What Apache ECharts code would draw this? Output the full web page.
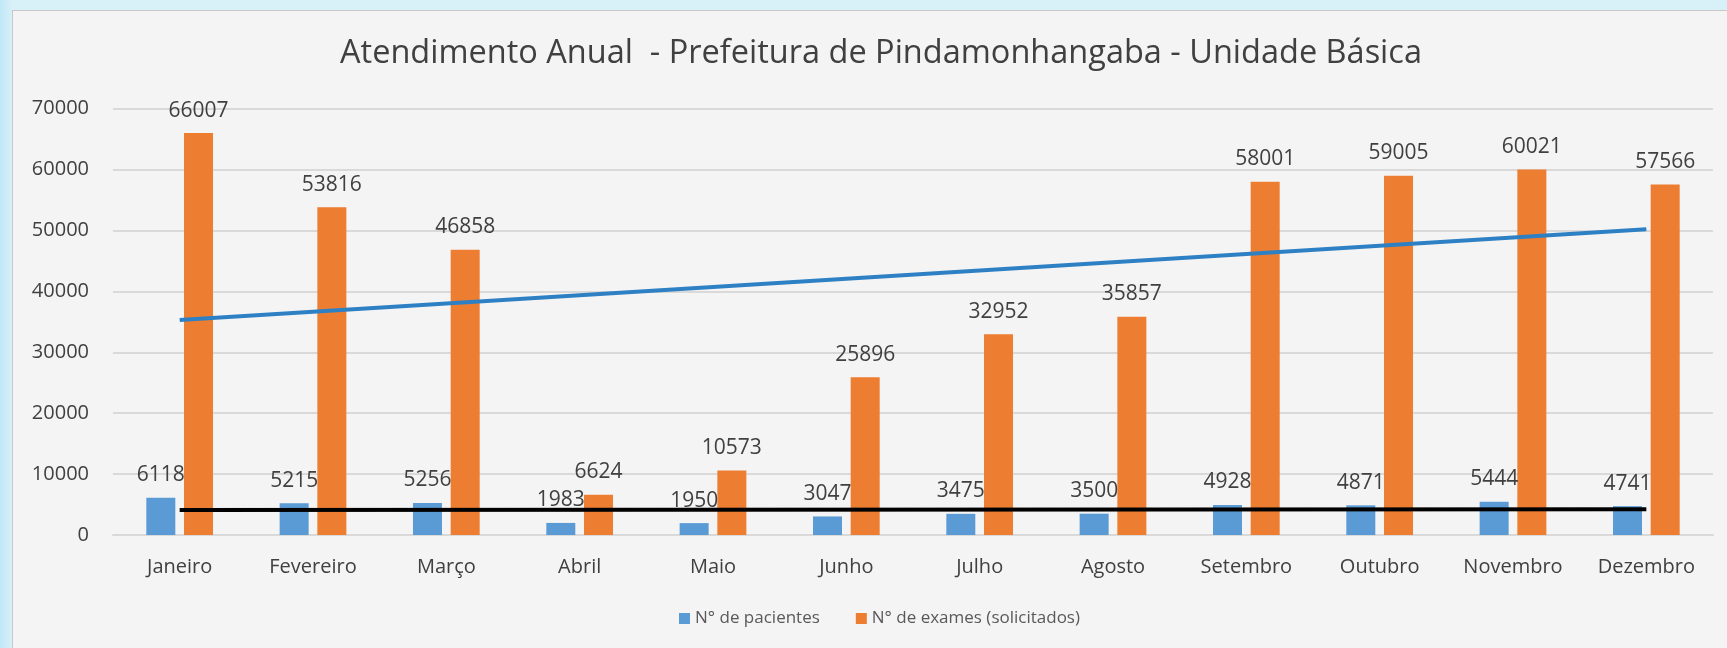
<!DOCTYPE html>
<html>
<head>
<meta charset="utf-8">
<script src="https://cdn.jsdelivr.net/npm/echarts@6/dist/echarts.min.js"></script>
<style>
html, body { margin: 0; padding: 0; }
body { width: 1727px; height: 648px; background: linear-gradient(90deg, #bfe7f7 0px, #d8f0f8 12px, #d8f0f8 100%); position: relative; overflow: hidden; }
#panel { position: absolute; left: 12px; top: 10px; width: 1715px; height: 638px; background: #f4f4f4; border-left: 1px solid #c8c8c8; border-top: 1px solid #c8c8c8; box-sizing: border-box; }
#main { position: absolute; left: 0; top: 0; width: 1727px; height: 648px; }
</style>
</head>
<body>
<div id="panel"></div>
<div id="main"></div>
<script>
var months = ['Janeiro', 'Fevereiro', 'Março', 'Abril', 'Maio', 'Junho', 'Julho', 'Agosto', 'Setembro', 'Outubro', 'Novembro', 'Dezembro'];
var pacientes = [6118, 5215, 5256, 1983, 1950, 3047, 3475, 3500, 4928, 4871, 5444, 4741];
var exames = [66007, 53816, 46858, 6624, 10573, 25896, 32952, 35857, 58001, 59005, 60021, 57566];
// trend lines, end points
var trendExames = [['Janeiro', 35300], ['Dezembro', 50200]];
var trendPacientes = [['Janeiro', 4120], ['Dezembro', 4230]];

var myChart = echarts.init(document.getElementById('main'));
var font = '"Open Sans", "Noto Sans", sans-serif';

var option = {
    backgroundColor: 'transparent',
    animation: false,
    textStyle: { fontFamily: font },
    title: {
        text: 'Atendimento Anual  - Prefeitura de Pindamonhangaba - Unidade Básica',
        left: 876,
        textAlign: 'center',
        top: 32,
        textStyle: { fontFamily: font, fontSize: 32.5, fontWeight: 'normal', color: '#404040' }
    },
    legend: {
        data: ['N° de pacientes', 'N° de exames (solicitados)'],
        left: 674,
        bottom: 16,
        icon: 'rect',
        itemWidth: 11,
        itemHeight: 11,
        itemGap: 36,
        itemStyle: { borderWidth: 0 },
        textStyle: { fontFamily: font, fontSize: 17, color: '#595959' }
    },
    grid: { left: 113, right: 14, top: 108.7, bottom: 113 },
    xAxis: {
        type: 'category',
        data: months,
        axisTick: { show: false },
        axisLine: { lineStyle: { color: '#d9d9d9', width: 2 } },
        axisLabel: { fontFamily: font, fontSize: 20, color: '#404040', margin: 22 }
    },
    yAxis: {
        type: 'value',
        min: 0,
        max: 70000,
        interval: 10000,
        axisLine: { show: false },
        axisTick: { show: false },
        splitLine: { lineStyle: { color: '#d9d9d9', width: 2 } },
        axisLabel: {
            fontFamily: font, fontSize: 20, color: '#404040', margin: 24,
            formatter: function (v) { return String(v); }
        }
    },
    series: [
        {
            name: 'N° de pacientes',
            type: 'bar',
            data: pacientes,
            barWidth: 29,
            barGap: '30%',
            itemStyle: { color: '#5b9bd5' },
            label: { show: true, position: 'top', distance: 12, fontFamily: font, fontSize: 21, color: '#404040' }
        },
        {
            name: 'N° de exames (solicitados)',
            type: 'bar',
            data: exames,
            barWidth: 29,
            itemStyle: { color: '#ed7d31' },
            label: { show: true, position: 'top', distance: 12, fontFamily: font, fontSize: 21, color: '#404040' }
        },
        {
            name: 'Tendência exames',
            type: 'line',
            data: trendExames,
            symbol: 'none',
            z: 5,
            lineStyle: { color: '#2e80c4', width: 4 }
        },
        {
            name: 'Tendência pacientes',
            type: 'line',
            data: trendPacientes,
            symbol: 'none',
            z: 5,
            lineStyle: { color: '#000000', width: 4 }
        }
    ]
};

myChart.setOption(option);
</script>
</body>
</html>
